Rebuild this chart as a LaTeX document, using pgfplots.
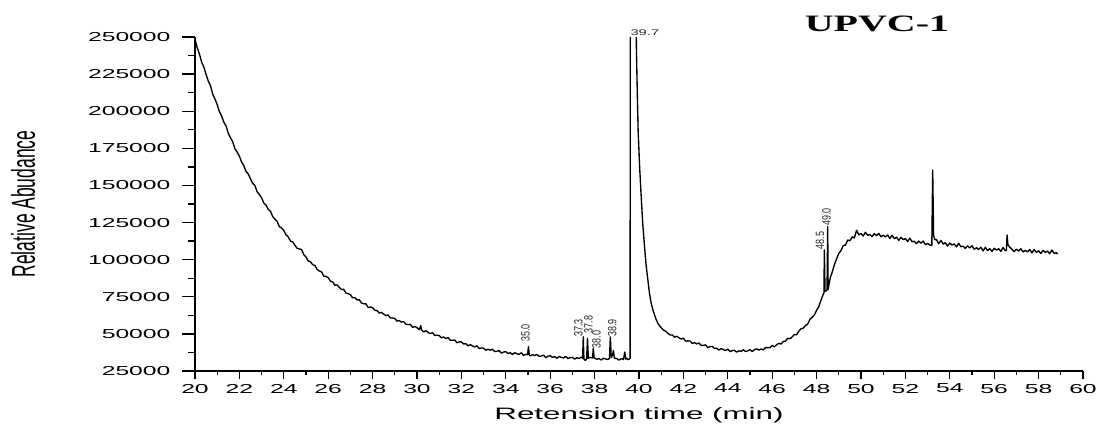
\documentclass[border=0pt]{standalone}
\usepackage{fontspec}
\usepackage{pgfplots}
\pgfplotsset{compat=1.18}
\setmainfont[FakeStretch=1.9]{Liberation Sans}
\newfontfamily\ylabfont[FakeStretch=0.53]{Liberation Sans}
\newfontfamily\peakfont[FakeStretch=0.75]{Liberation Sans}
\newfontfamily\smallfont[FakeStretch=1.8]{Liberation Sans}
\newfontfamily\titlefont[FakeStretch=1.7]{Liberation Serif}

\begin{document}
\begin{tikzpicture}
\useasboundingbox (-195pt,-53pt) rectangle (906pt,371pt);
\begin{axis}[
  scale only axis, width=888pt, height=334pt,
  xmin=20, xmax=60, ymin=25000, ymax=250000,
  axis x line*=bottom, axis y line*=left,
  axis line style={-, line width=1.3pt},
  xtick={20,22,24,26,28,30,32,34,36,38,40,42,44,46,48,50,52,54,56,58,60},
  ytick={25000,50000,75000,100000,125000,150000,175000,200000,225000,250000},
  minor x tick num=1,
  tick align=outside,
  major tick length=8pt, minor tick length=4pt,
  xtick style={line width=1.3pt, black},
  ytick style={draw=none},
  /pgf/number format/assume math mode=true,
  /pgf/number format/fixed,
  /pgf/number format/precision=0,
  /pgf/number format/1000 sep={},
  scaled y ticks=false,
  tick label style={font=\fontsize{13}{15}\selectfont},
  yticklabel style={xshift=-13pt},
  xticklabel style={yshift=-1.5pt},
  xlabel={Retension time (min)},
  ylabel={Relative Abudance},
  xlabel style={font=\fontsize{16.5}{18}\selectfont, at={(axis description cs:0.5,-0.133)}, anchor=center},
  ylabel style={font=\ylabfont\fontsize{33}{35}\selectfont, at={(axis description cs:-0.1937,0.5)}, anchor=center},
  clip mode=individual,
]
% chromatogram trace
\addplot[black, line width=1.35pt, line join=round] coordinates {
(20.0,248500)(20.1,242800)(20.2,238600)(20.3,233000)(20.4,229700)(20.5,224800)(20.6,220200)(20.7,217100)(20.8,211500)(20.9,208200)
(21.0,204500)(21.1,199600)(21.2,196800)(21.3,192600)(21.4,190000)(21.5,185100)(21.6,182100)(21.7,179400)(21.8,174600)(21.9,172500)
(22.0,169700)(22.1,165700)(22.2,163300)(22.3,159300)(22.4,157700)(22.5,154400)(22.6,151400)(22.7,149900)(22.8,145700)(22.9,143900)
(23.0,141700)(23.1,138100)(23.2,136700)(23.3,133900)(23.4,132600)(23.5,129000)(23.6,127200)(23.7,125800)(23.8,122200)(23.9,121300)
(24.0,119700)(24.1,116700)(24.2,115400)(24.3,112500)(24.4,112000)(24.5,109700)(24.6,107700)(24.7,107200)(24.8,106800)(24.9,103400)
(25.0,101800)(25.1,99100)(25.2,98600)(25.3,96600)(25.4,96100)(25.5,93400)(25.6,92400)(25.7,91800)(25.8,88900)(25.9,88700)
(26.0,87900)(26.1,85600)(26.2,85000)(26.3,82800)(26.4,83000)(26.5,81300)(26.6,79900)(26.7,80000)(26.8,77500)(26.9,77100)
(27.0,76400)(27.1,74300)(27.2,74400)(27.3,72900)(27.4,73000)(27.5,70800)(27.6,70300)(27.7,70200)(27.8,67800)(27.9,68100)
(28.0,67700)(28.1,65900)(28.2,65700)(28.3,64000)(28.4,64500)(28.5,63300)(28.6,62300)(28.7,62800)(28.8,60700)(28.9,60700)
(29.0,60400)(29.1,58600)(29.2,59000)(29.3,57900)(29.4,58300)(29.5,56500)(29.6,56300)(29.7,56400)(29.8,54400)(29.9,55000)
(30.0,54200)(30.1,52800)(30.17,55600)(30.2,52900)(30.3,51300)(30.4,52100)(30.5,51000)(30.6,50200)(30.7,50900)(30.8,48900)(30.9,49100)
(31.0,48900)(31.1,47300)(31.2,47900)(31.3,46900)(31.4,47500)(31.5,45700)(31.6,45700)(31.7,45900)(31.8,44000)(31.9,44600)
(32.0,44600)(32.1,43200)(32.2,43400)(32.3,41900)(32.4,42800)(32.5,41900)(32.6,41200)(32.7,42000)(32.8,40200)(32.9,40500)
(33.0,40400)(33.1,39000)(33.2,39700)(33.3,39000)(33.4,39700)(33.5,38100)(33.6,38300)(33.7,38700)(33.8,37000)(33.9,37800)
(34.0,38000)(34.1,36800)(34.2,37300)(34.3,36100)(34.4,37300)(34.5,36600)(34.6,36200)(34.7,37300)(34.8,35600)(34.9,36200)
(34.98,36000)(35.02,41400)(35.06,35800)
(35.1,35200)(35.2,36000)(35.3,35400)(35.4,36200)(35.5,34800)(35.6,35100)(35.7,35700)(35.8,34000)(35.9,35000)
(36.0,35300)(36.1,34200)(36.2,34700)(36.3,33600)(36.4,34800)(36.5,34200)(36.6,33800)(36.7,34900)(36.8,33400)(36.9,34000)
(37.0,34200)(37.1,33000)(37.2,34000)(37.3,33400)(37.4,34400)
(37.46,33500)(37.49,48000)(37.52,33000)(37.58,32200)(37.64,33000)(37.68,47000)(37.72,33600)(37.8,34200)(37.91,33800)(37.94,40500)(37.98,33800)
(38.1,32900)(38.2,33400)(38.3,32400)(38.4,33600)(38.5,33100)(38.6,32800)
(38.67,33500)(38.71,48000)(38.75,34000)(38.8,35500)(38.85,38800)(38.89,33600)
(39.0,33400)(39.1,32300)(39.2,33300)(39.3,32800)(39.36,37800)(39.4,33000)(39.45,33600)(39.5,32600)(39.58,33200)
(39.60,33500)(39.61,400000)(39.86,400000)(39.88,245000)(39.92,215000)(39.96,187400)(40.03,162000)(40.10,142400)(40.17,124000)
(40.25,108700)(40.32,96500)(40.40,86300)(40.47,77500)(40.55,70600)(40.65,65000)(40.75,60500)(40.85,57100)(40.95,55000)
(41.1,52600)(41.2,51800)(41.3,50400)(41.4,49300)(41.5,49300)(41.6,47700)(41.7,48400)(41.8,47400)(41.9,46500)
(42.0,47100)(42.1,45100)(42.2,45300)(42.3,45200)(42.4,43600)(42.5,44100)(42.6,43200)(42.7,43900)(42.8,42200)(42.9,42300)
(43.0,42600)(43.1,40700)(43.2,41500)(43.3,41500)(43.4,40200)(43.5,40400)(43.6,39100)(43.7,40100)(43.8,39400)(43.9,38800)
(44.0,39700)(44.1,38100)(44.2,38700)(44.3,38900)(44.4,37700)(44.5,38600)(44.6,38200)(44.7,39300)(44.8,38100)(44.9,38600)
(45.0,39400)(45.1,38100)(45.2,39400)(45.3,39900)(45.4,39100)(45.5,39900)(45.6,39200)(45.7,40800)(45.8,40700)(45.9,40700)
(46.0,42200)(46.1,41300)(46.2,42700)(46.3,43600)(46.4,43200)(46.5,44800)(46.6,45200)(46.7,47100)(46.8,46700)(46.9,48000)
(47.0,49600)(47.1,49400)(47.2,51800)(47.3,53500)(47.4,53800)(47.5,55700)(47.6,56600)(47.7,59800)(47.8,61200)(47.9,62800)
(48.0,65900)(48.1,68400)(48.2,72800)(48.28,76000)
(48.33,77500)(48.35,106500)(48.38,78500)(48.47,79500)(48.50,122200)(48.52,80000)
(48.56,83500)(48.62,88000)(48.7,91500)(48.8,96500)(48.9,100500)(49.0,104200)(49.1,106200)(49.2,109500)(49.3,109800)
(49.4,113200)(49.5,112700)(49.6,115400)(49.7,114600)(49.8,119800)(49.9,116700)
(50.0,117700)(50.1,115900)(50.2,118500)(50.3,116400)(50.4,116900)(50.5,115600)(50.6,117500)(50.7,116200)(50.8,117700)(50.9,115400)
(51.0,116500)(51.1,115300)(51.2,116700)(51.3,114200)(51.4,116400)(51.5,114200)(51.6,115100)(51.7,113000)(51.8,115000)(51.9,113500)
(52.0,114200)(52.1,112200)(52.2,114500)(52.3,112100)(52.4,112400)(52.5,110800)(52.6,112500)(52.7,111100)(52.8,112500)(52.9,110100)
(53.0,111000)(53.1,109800)(53.19,109500)(53.23,160400)(53.27,116500)(53.32,113500)
(53.4,113500)(53.5,110800)(53.6,112900)(53.7,110500)(53.8,111400)(53.9,109200)
(54.0,111200)(54.1,109800)(54.2,110600)(54.3,108600)(54.4,111000)(54.5,108700)(54.6,109100)(54.7,107600)(54.8,109300)(54.9,107900)
(55.0,109400)(55.1,107000)(55.2,108000)(55.3,106900)(55.4,108400)(55.5,105900)(55.6,108300)(55.7,106200)(55.8,107400)(55.9,105500)
(56.0,107700)(56.1,106400)(56.2,107400)(56.3,105600)(56.4,108200)(56.5,106000)
(56.55,106300)(56.58,116600)(56.62,110000)(56.68,108800)
(56.8,107000)(56.9,105400)(57.0,107100)(57.1,105800)(57.2,107400)(57.3,105200)(57.4,106300)(57.5,105200)(57.6,106800)(57.7,104500)
(57.8,106900)(57.9,104900)(58.0,106000)(58.1,104100)(58.2,106300)(58.3,104900)(58.4,105800)(58.5,104000)(58.6,106500)(58.7,104200)
(58.8,104700)(58.86,103800)
};
% y-axis ticks drawn outward
\pgfplotsinvokeforeach{25000,50000,75000,100000,125000,150000,175000,200000,225000,250000}{
  \draw[line width=1.3pt] (axis cs:20,#1) -- ++(-13pt,0pt);
}
\pgfplotsinvokeforeach{37500,62500,87500,112500,137500,162500,187500,212500,237500}{
  \draw[line width=1.3pt] (axis cs:20,#1) -- ++(-7pt,0pt);
}
% peak annotations
\begin{scope}[every node/.style={rotate=90, anchor=west, inner sep=0pt, text=black!85, font=\peakfont\fontsize{12}{12}\selectfont}]
\node at (axis cs:34.89,44700) {35.0};
\node at (axis cs:37.27,48100) {37.3};
\node at (axis cs:37.72,50400) {37.8};
\node at (axis cs:38.08,40300) {38.0};
\node at (axis cs:38.79,48100) {38.9};
\node at (axis cs:48.15,107000) {48.5};
\node at (axis cs:48.45,122700) {49.0};
\end{scope}
\node[anchor=south west, inner sep=0pt, yshift=1pt, text=black!85, font=\smallfont\fontsize{8.2}{9}\selectfont] at (axis cs:39.61,250000) {39.7};
\node[font=\titlefont\bfseries\fontsize{23.5}{25}\selectfont, yshift=13pt] at (axis cs:50.72,250000) {UPVC-1};
\end{axis}
\end{tikzpicture}
\end{document}
